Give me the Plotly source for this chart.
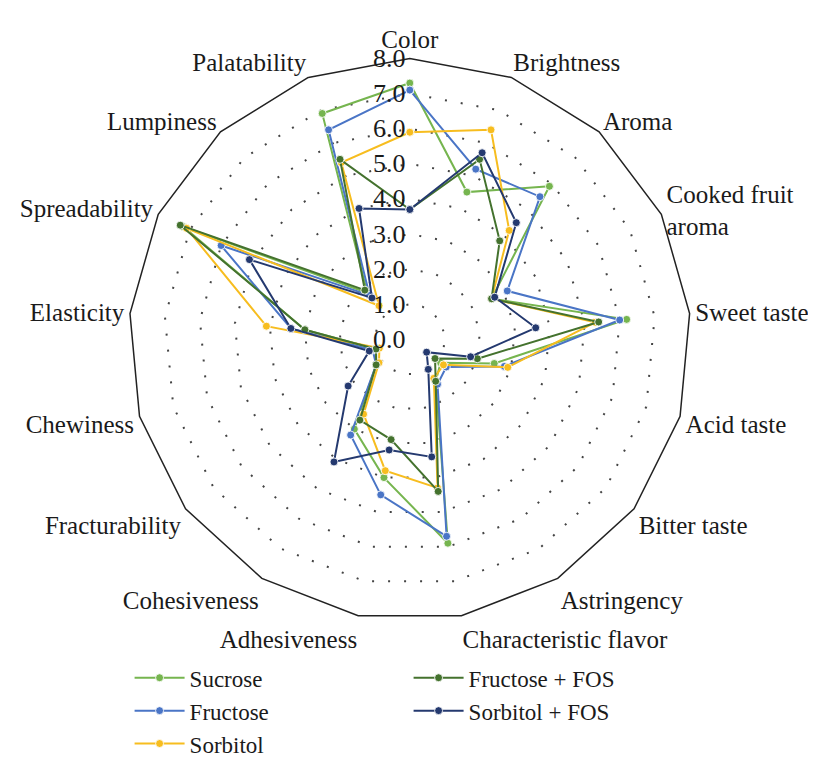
import plotly.graph_objects as go

categories = ["Color", "Brightness", "Aroma", "Cooked fruit<br>aroma", "Sweet taste",
              "Acid taste", "Bitter taste", "Astringency", "Characteristic flavor",
              "Adhesiveness", "Cohesiveness", "Fracturability", "Chewiness",
              "Elasticity", "Spreadability", "Lumpiness", "Palatability"]
# label text shown around the chart (same words; one label set one line lower)
category_labels = ["Color", "Brightness", "Aroma", " <br>Cooked fruit<br>aroma", "Sweet taste",
                   "Acid taste", "Bitter taste", "Astringency", "Characteristic flavor",
                   "Adhesiveness", "Cohesiveness", "Fracturability", "Chewiness",
                   "Elasticity", "Spreadability", "Lumpiness", "Palatability"]

sucrose = [7.3, 4.5, 5.9, 2.6, 6.2, 2.5, 1.1, 1.4, 5.9, 4.0, 3.0, 1.2, 1.0, 3.0, 7.2, 1.8, 6.9]
fructose = [7.1, 5.2, 5.5, 3.1, 6.0, 2.8, 1.3, 1.5, 5.7, 4.5, 3.2, 1.2, 1.1, 3.4, 6.0, 1.7, 6.4]
sorbitol = [5.9, 6.4, 4.2, 2.6, 5.3, 2.9, 1.2, 1.3, 4.3, 3.8, 2.5, 1.1, 0.9, 4.1, 7.1, 1.3, 5.4]
fructose_fos = [3.7, 5.5, 3.8, 2.6, 5.4, 2.0, 0.9, 1.4, 4.4, 2.9, 2.7, 1.2, 1.0, 3.0, 7.3, 1.9, 5.5]
sorbitol_fos = [3.7, 5.7, 4.5, 2.7, 3.6, 1.8, 0.6, 1.0, 3.4, 3.2, 4.1, 2.2, 1.2, 3.4, 5.1, 1.6, 4.0]

radial_ticks = [0, 1, 2, 3, 4, 5, 6, 7, 8]
radial_ticktext = ["0.0", "1.0", "2.0", "3.0", "4.0", "5.0", "6.0", "7.0", "8.0"]

series = [
    ("Sucrose", sucrose, "#76b54f", 1),
    ("Fructose", fructose, "#4a75c6", 3),
    ("Sorbitol", sorbitol, "#f7bd1f", 5),
    ("Fructose + FOS", fructose_fos, "#44722e", 2),
    ("Sorbitol + FOS", sorbitol_fos, "#24396f", 4),
]

FONT = "Liberation Serif"
TXT = "#1a1a1a"

fig = go.Figure()
for name, vals, color, rank in series:
    fig.add_trace(go.Scatterpolar(
        r=vals + vals[:1],
        theta=categories + categories[:1],
        mode="lines+markers",
        name=name,
        legendrank=rank,
        line=dict(color=color, width=2),
        marker=dict(size=8, color=color, line=dict(color="rgba(255,255,255,0.85)", width=1)),
    ))

fig.update_layout(
    width=816, height=760,
    margin=dict(l=0, r=0, t=0, b=0, autoexpand=False),
    paper_bgcolor="white",
    plot_bgcolor="white",
    font=dict(family=FONT, size=25, color=TXT),
    polar=dict(
        domain=dict(x=[0.1480, 0.8368], y=[0.1941, 0.9336]),
        bgcolor="white",
        gridshape="linear",
        radialaxis=dict(
            range=[0, 8],
            tickvals=radial_ticks,
            ticktext=radial_ticktext,
            angle=90,
            tickangle=90,
            side="counterclockwise",
            showline=False,
            ticks="",
            showgrid=True,
            gridcolor="#444444",
            gridwidth=1.5,
            griddash="2px,14px",
            tickfont=dict(family=FONT, size=26, color=TXT),
        ),
        angularaxis=dict(
            rotation=90,
            direction="clockwise",
            tickvals=categories,
            ticktext=category_labels,
            showline=True,
            linecolor="#222222",
            linewidth=1.5,
            showgrid=False,
            ticks="",
            tickfont=dict(family=FONT, size=25, color=TXT),
        ),
    ),
    legend=dict(
        orientation="h",
        x=0.149, xanchor="left",
        y=0.147, yanchor="top",
        itemwidth=50,
        entrywidth=214,
        font=dict(family=FONT, size=23, color=TXT),
        bgcolor="rgba(0,0,0,0)",
    ),
    showlegend=True,
)

fig.write_html("out.html")
